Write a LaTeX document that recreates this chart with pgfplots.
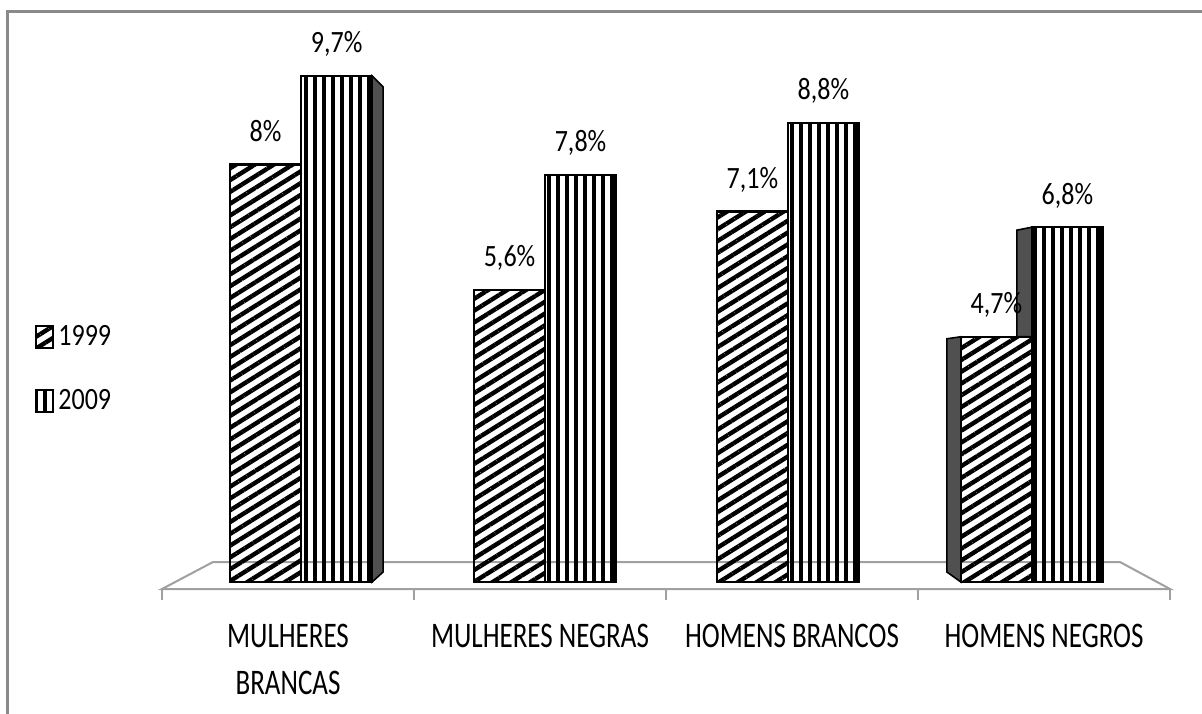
\documentclass[border=0pt]{standalone}
\usepackage{fontspec}
\setmainfont{Carlito}[FakeStretch=0.84]
\newfontfamily\labfont{Carlito}[FakeStretch=0.75]
\usepackage{pgfplots}
\pgfplotsset{compat=1.18}
\usetikzlibrary{patterns.meta}
\newcommand\cfont{\fontsize{15.5}{18.6}\selectfont}
\newcommand\lfont{\labfont\fontsize{18}{21.6}\selectfont}
\definecolor{framegray}{RGB}{138,138,138}
\definecolor{floorgray}{RGB}{160,160,160}
\definecolor{sidegray}{RGB}{80,80,80}

\begin{document}
\begin{tikzpicture}[font=\cfont]
\draw[line width=1.5pt, framegray] (-77pt,-70pt) -- (-77pt,288.5pt) -- (530pt,288.5pt);

\begin{axis}[
    at={(0,0)}, anchor=south west,
    scale only axis, width=504pt, height=284.5pt,
    set layers,
    xmin=-0.5, xmax=3.5, ymin=-0.134, ymax=10.77,
    ybar, bar width=35.5pt,
    axis line style={draw=none},
    ytick=\empty,
    xtick={0,1,2,3},
    xticklabels={{MULHERES\\[1.6pt]BRANCAS},{MULHERES NEGRAS},{HOMENS BRANCOS},{HOMENS NEGROS}},
    xticklabel style={align=center, inner sep=0pt, anchor=north, yshift=-17.5pt, font=\lfont},
    major tick length=0pt,
    clip=false,
    /pgf/number format/assume math mode=true,
    nodes near coords={\pgfmathprintnumber[use comma]{\pgfplotspointmeta}\%},
    every node near coord/.append style={anchor=base, inner sep=0pt, yshift=11.5pt, font=\cfont},
    legend style={at={(axis description cs:-0.126,0.386)}, anchor=west, draw=none, fill=none,
        inner sep=0pt, row sep=16.5pt, font=\cfont},
    legend cell align=left,
    legend image code/.code={\draw[#1, line width=1pt] (0pt,-5.5pt) rectangle (8.5pt,5.5pt);},
]
% floor of the 3D plot
\begin{pgfonlayer}{axis background}
\draw[line width=1pt, floorgray] (rel axis cs:0,0) -- (rel axis cs:0.0506,0.04745)
    -- (rel axis cs:0.9504,0.04745) -- (rel axis cs:1,0) -- cycle;
\draw[line width=1pt, floorgray] (rel axis cs:0,0) -- ([yshift=-5.5pt]rel axis cs:0,0);
\draw[line width=1pt, floorgray] (rel axis cs:0.25,0) -- ([yshift=-5.5pt]rel axis cs:0.25,0);
\draw[line width=1pt, floorgray] (rel axis cs:0.5,0) -- ([yshift=-5.5pt]rel axis cs:0.5,0);
\draw[line width=1pt, floorgray] (rel axis cs:0.75,0) -- ([yshift=-5.5pt]rel axis cs:0.75,0);
\draw[line width=1pt, floorgray] (rel axis cs:1,0) -- ([yshift=-5.5pt]rel axis cs:1,0);
\end{pgfonlayer}

\addplot[draw=black, line width=1.1pt, bar shift=-17.75pt,
    pattern={Lines[angle=32,distance=5pt,line width=2.2pt]}]
    coordinates {(0.052,8) (1.02,5.6) (1.984,7.1) (2.952,4.7)};
\addlegendentry{1999}
\addplot[draw=black, line width=1.1pt, bar shift=17.75pt,
    pattern={Lines[angle=90,distance=4.5pt,line width=2pt]}]
    coordinates {(0.052,9.7) (1.02,7.8) (1.984,8.8) (2.952,6.8)};
\addlegendentry{2009}

% thicker right edges of the 2009 bars
\draw[line width=2pt] ([xshift=35pt]axis cs:1.02,7.8) -- ([xshift=35pt]axis cs:1.02,0);
\draw[line width=2pt] ([xshift=35pt]axis cs:1.984,8.8) -- ([xshift=35pt]axis cs:1.984,0);
\draw[line width=2pt] ([xshift=35pt]axis cs:2.952,6.8) -- ([xshift=35pt]axis cs:2.952,0);

% dark side faces
\begin{pgfonlayer}{pre main}
\filldraw[fill=sidegray, draw=black, line width=0.8pt]
    ([xshift=35.5pt]axis cs:0.052,9.7) -- ++(5.5pt,-5.5pt)
    -- ([xshift=41pt,yshift=5pt]axis cs:0.052,0) -- ([xshift=35.5pt]axis cs:0.052,0) -- cycle;
\filldraw[fill=sidegray, draw=black, line width=0.8pt]
    ([xshift=-35.5pt]axis cs:2.952,4.7) -- ++(-7pt,-1pt)
    -- ([xshift=-42.5pt,yshift=5pt]axis cs:2.952,0) -- ([xshift=-35.5pt]axis cs:2.952,0) -- cycle;
\filldraw[fill=sidegray, draw=black, line width=0.8pt]
    (axis cs:2.952,6.8) -- ++(-7.5pt,-1.5pt)
    -- ([xshift=-7.5pt]axis cs:2.952,4.7) -- (axis cs:2.952,4.7) -- cycle;
\end{pgfonlayer}
\end{axis}
\pgfresetboundingbox
\useasboundingbox (-81pt,-62pt) rectangle (520pt,294.5pt);
\end{tikzpicture}
\end{document}
